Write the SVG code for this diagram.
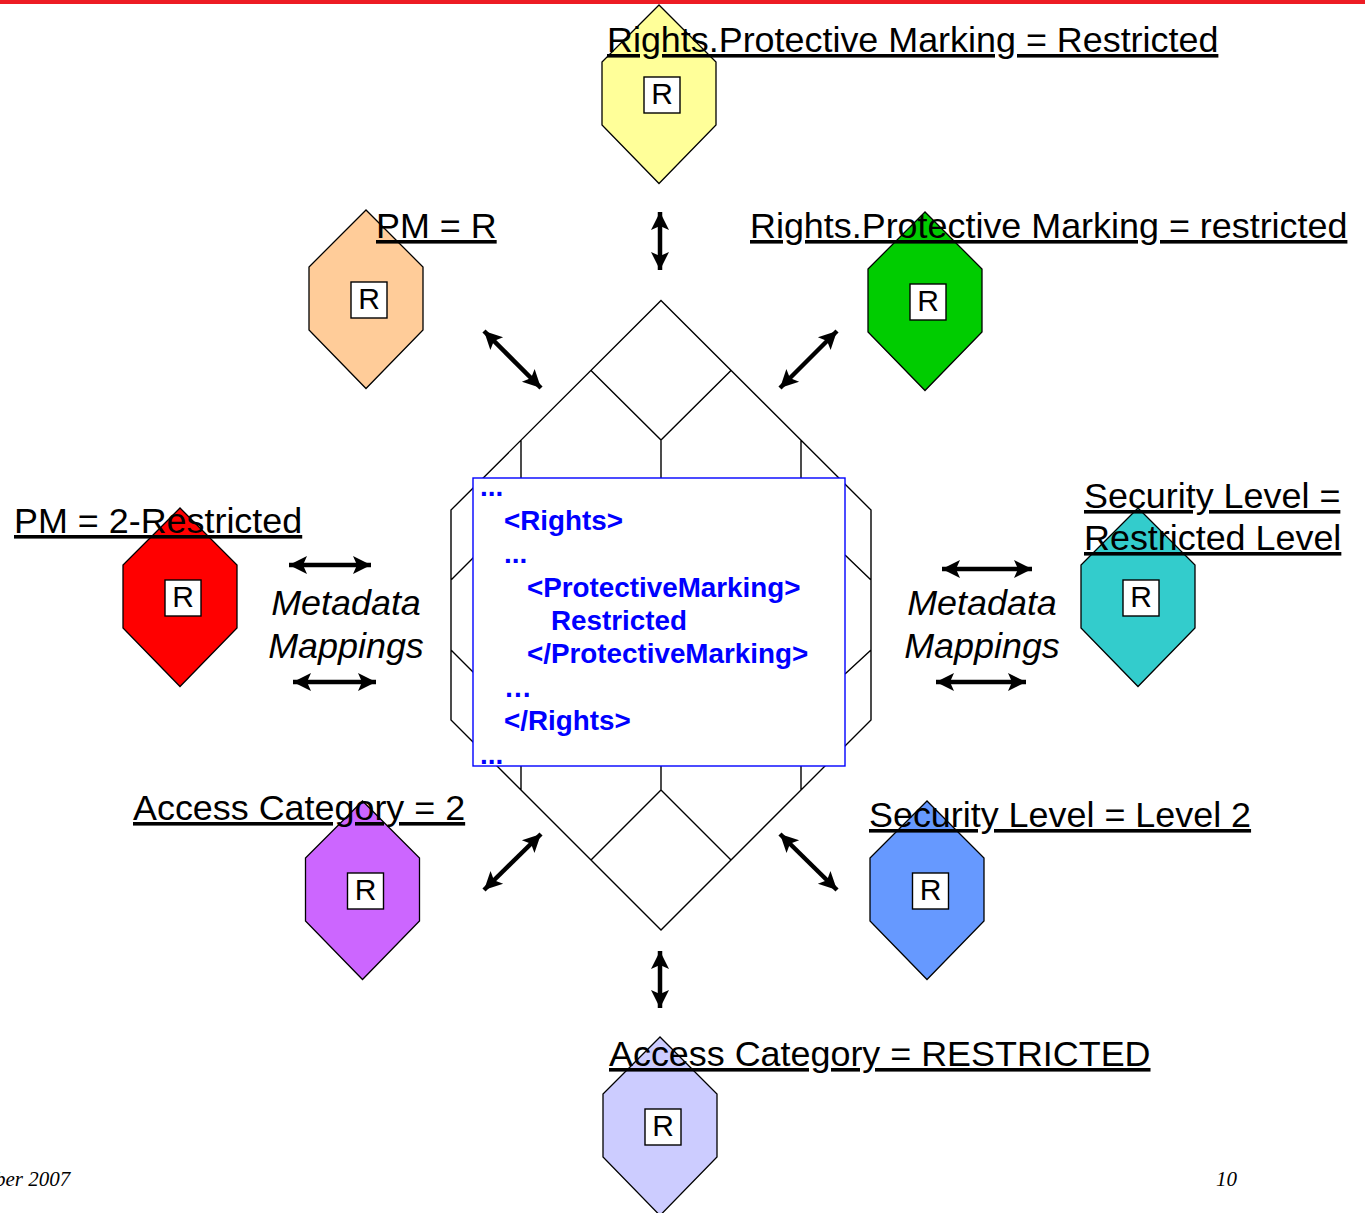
<svg xmlns="http://www.w3.org/2000/svg" width="1365" height="1213" viewBox="0 0 1365 1213">
<style>
.hex{stroke:#000;stroke-width:1.3}
.box{fill:#fff;stroke:#000;stroke-width:1.4}
.r{font:30px "Liberation Sans",Arial,sans-serif;text-anchor:middle;fill:#000}
.lb{font:35.9px "Liberation Sans",Arial,sans-serif;fill:#000;text-decoration:underline;text-decoration-skip-ink:none;text-decoration-thickness:2px;text-underline-offset:3px}
.meta{font:italic 35.9px "Liberation Sans",Arial,sans-serif;fill:#000;text-anchor:middle}
.x{font:bold 27.8px "Liberation Sans",Arial,sans-serif;fill:#00f}
.foot{font:italic 21px "Liberation Serif","Times New Roman",serif;fill:#000}
.line{fill:none;stroke:#000;stroke-width:1.4}
.arr{fill:none;stroke:#000;stroke-width:4.5;marker-start:url(#ah);marker-end:url(#ah)}
</style>
<defs>
<marker id="ah" markerUnits="userSpaceOnUse" markerWidth="20" markerHeight="20" refX="19" refY="10" orient="auto-start-reverse" viewBox="0 0 20 20"><path d="M1 1 L19 10 L1 19 L5 10 Z" fill="#000"/></marker>
<polygon id="h" points="0,0 -57,57 -57,120 0,178.500 57,120 57,57"/>
</defs>
<rect width="1365" height="1213" fill="#fff"/>
<rect width="1365" height="4" fill="#ed1c24"/>
<g id="hub">
<path class="line" d="M661 300.500 L871 510 V720 L661 930 L451 720 V510 Z M591 370.500 L661 440 L731 370.500 M661 440 V480 M521 440 V480 M801 440 V480 M451 580 L475 556 M451 650 L475 674 M871 580 L845 555 M871 650 L845 674 M521 790 V766 M661 790 V766 M801 790 V766 M591 860 L661 790 L731 860"/>
</g>
<g id="connectors">
<line class="arr" x1="660" y1="212" x2="660" y2="270"/>
<line class="arr" x1="484" y1="331" x2="541" y2="388"/>
<line class="arr" x1="837" y1="331" x2="780" y2="388"/>
<line class="arr" x1="289" y1="565" x2="371" y2="565"/>
<line class="arr" x1="293" y1="682" x2="376" y2="682"/>
<line class="arr" x1="942" y1="569" x2="1032" y2="569"/>
<line class="arr" x1="936" y1="682" x2="1026" y2="682"/>
<line class="arr" x1="541" y1="834" x2="484" y2="890"/>
<line class="arr" x1="780" y1="834" x2="837" y2="890"/>
<line class="arr" x1="660" y1="951" x2="660" y2="1008"/>
</g>
<g id="xml-box">
<rect x="473" y="478" width="372" height="288" fill="#fff" stroke="#00f" stroke-width="1.4"/>
<text class="x" x="480" y="496">...</text>
<text class="x" x="504" y="530">&lt;Rights&gt;</text>
<text class="x" x="504" y="563">...</text>
<text class="x" x="527" y="597">&lt;ProtectiveMarking&gt;</text>
<text class="x" x="551" y="630">Restricted</text>
<text class="x" x="527" y="663">&lt;/ProtectiveMarking&gt;</text>
<text class="x" x="504" y="697">…</text>
<text class="x" x="504" y="730">&lt;/Rights&gt;</text>
<text class="x" x="480" y="764">...</text>
</g>
<g id="node-yellow"><use href="#h" x="659" y="5" class="hex" fill="#ffff99"/><rect class="box" x="644" y="77" width="36" height="36"/><text class="r" x="662" y="104">R</text><text class="lb" x="607" y="52">Rights.Protective Marking = Restricted</text></g>
<g id="node-orange"><use href="#h" x="366" y="210" class="hex" fill="#ffcc99"/><rect class="box" x="351" y="282" width="36" height="36"/><text class="r" x="369" y="309">R</text><text class="lb" x="376" y="238">PM = R</text></g>
<g id="node-green"><use href="#h" x="925" y="212" class="hex" fill="#00cc00"/><rect class="box" x="910" y="284" width="36" height="36"/><text class="r" x="928" y="311">R</text><text class="lb" x="750" y="238">Rights.Protective Marking = restricted</text></g>
<g id="node-red"><use href="#h" x="180" y="508" class="hex" fill="#ff0000"/><rect class="box" x="165" y="580" width="36" height="36"/><text class="r" x="183" y="607">R</text><text class="lb" x="14" y="533">PM = 2-Restricted</text></g>
<g id="node-teal"><use href="#h" x="1138" y="508" class="hex" fill="#33cccc"/><rect class="box" x="1123" y="580" width="36" height="36"/><text class="r" x="1141" y="607">R</text><text class="lb" x="1084" y="508">Security Level =</text><text class="lb" x="1084" y="550">Restricted Level</text></g>
<g id="node-purple"><use href="#h" x="362.500" y="801" class="hex" fill="#cc66ff"/><rect class="box" x="347.500" y="873" width="36" height="36"/><text class="r" x="365.500" y="900">R</text><text class="lb" x="133" y="820">Access Category = 2</text></g>
<g id="node-blue"><use href="#h" x="927" y="801" class="hex" fill="#6699ff"/><rect class="box" x="912.500" y="873" width="36" height="36"/><text class="r" x="930.500" y="900">R</text><text class="lb" x="869" y="827">Security Level = Level 2</text></g>
<g id="node-lavender"><use href="#h" x="660" y="1037" class="hex" fill="#ccccff"/><rect class="box" x="645" y="1109" width="36" height="36"/><text class="r" x="663" y="1136">R</text><text class="lb" x="609" y="1066">Access Category = RESTRICTED</text></g>
<g id="labels">
<text class="meta" x="346" y="615">Metadata</text><text class="meta" x="346" y="658">Mappings</text>
<text class="meta" x="982" y="615">Metadata</text><text class="meta" x="982" y="658">Mappings</text>
<text class="foot" x="-5" y="1186">ber 2007</text>
<text class="foot" x="1216" y="1186">10</text>
</g>
</svg>
